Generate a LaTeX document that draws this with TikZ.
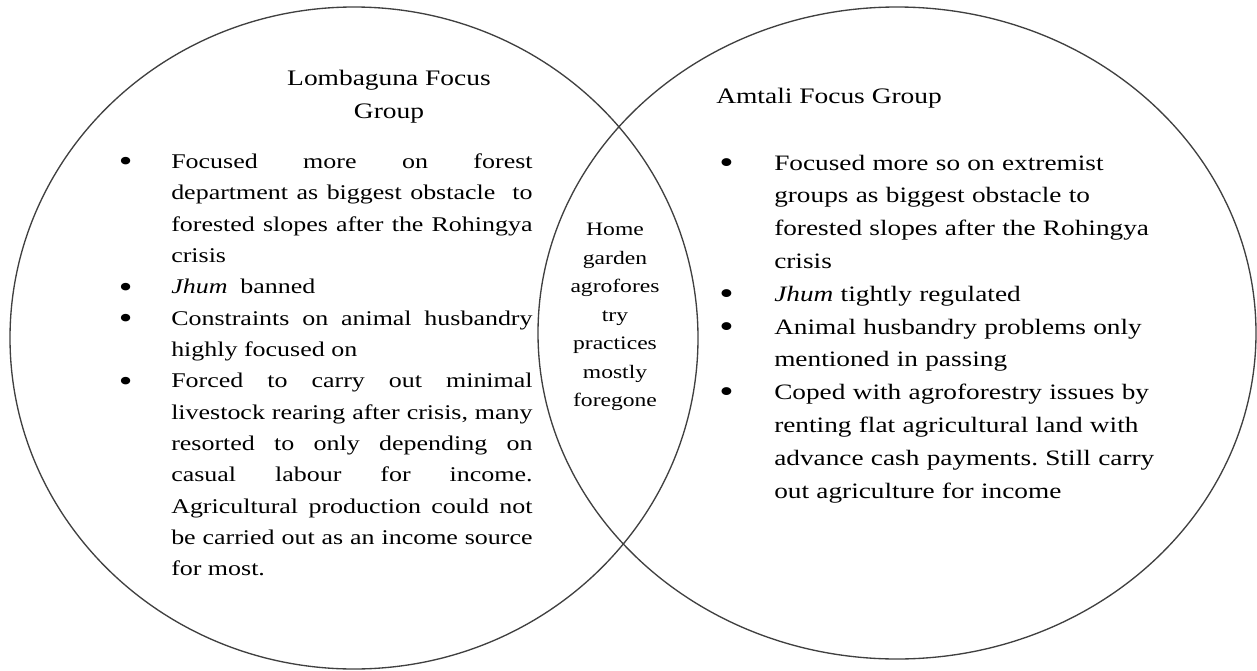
\documentclass[tikz,border=0pt]{standalone}
\usepackage{fontspec}
\setmainfont{Liberation Serif}[FakeStretch=1.24]
\usepackage{enumitem}
\setlist[itemize]{label=\raisebox{-0.15em}{\scalebox{1.5}{\textbullet}}, itemsep=0pt, topsep=0pt, parsep=0pt, partopsep=0pt}
\frenchspacing

\tikzset{
  ring/.style={draw=black!75, line width=1pt},
  grouptitle/.style={font=\fontsize{16.6pt}{24.8pt}\selectfont, align=center, inner sep=0pt},
  leftlist/.style={font=\fontsize{15.7pt}{23.5pt}\selectfont, text width=304pt, align=justify, inner sep=0pt, anchor=north west},
  rightlist/.style={font=\fontsize{16.5pt}{24.6pt}\selectfont, text width=339pt, align=left, inner sep=0pt, anchor=north west},
  overlap/.style={font=\fontsize{14.25pt}{21.4pt}\selectfont, align=center, inner sep=0pt}
}

\begin{document}
\begin{tikzpicture}[x=0.75pt, y=-0.75pt]
    \useasboundingbox (0,0) rectangle (1257,671);
    % the two groups
    \draw[ring] (354,338) ellipse [x radius=344, y radius=331];
    \draw[ring] (897,333) ellipse [x radius=359, y radius=326];
    % titles
    \node[grouptitle] (lomtitle) at (389,96.5) {Lombaguna Focus\\Group};
    \node[grouptitle, anchor=west] (amttitle) at (716,98) {Amtali Focus Group};
    % Lombaguna points
    \node[leftlist] (lomlist) at (127,137) {%
      \begin{itemize}[leftmargin=33pt, labelsep=29pt]
        \item Focused more on forest\linebreak department as biggest obstacle \ to\linebreak forested slopes after the Rohingya\linebreak crisis
        \item \textit{Jhum} \ banned
        \item Constraints on animal husbandry\linebreak highly focused on
        \item Forced to carry out minimal\linebreak livestock rearing after crisis, many\linebreak resorted to only depending on\linebreak casual labour for income.\linebreak Agricultural production could not\linebreak be carried out as an income source\linebreak for most.
      \end{itemize}};
    % Amtali points
    \node[rightlist] (amtlist) at (728,137) {%
      \begin{itemize}[leftmargin=34.5pt, labelsep=30.5pt]
        \item Focused more so on extremist\newline groups as biggest obstacle to\newline forested slopes after the Rohingya\newline crisis
        \item \textit{Jhum} tightly regulated
        \item Animal husbandry problems only\newline mentioned in passing
        \item Coped with agroforestry issues by\newline renting flat agricultural land with\newline advance cash payments. Still carry\newline out agriculture for income
      \end{itemize}};
    % shared
    \node[overlap] (shared) at (615,317) {Home\\garden\\agrofores\\try\\practices\\mostly\\foregone};
\end{tikzpicture}
\end{document}
